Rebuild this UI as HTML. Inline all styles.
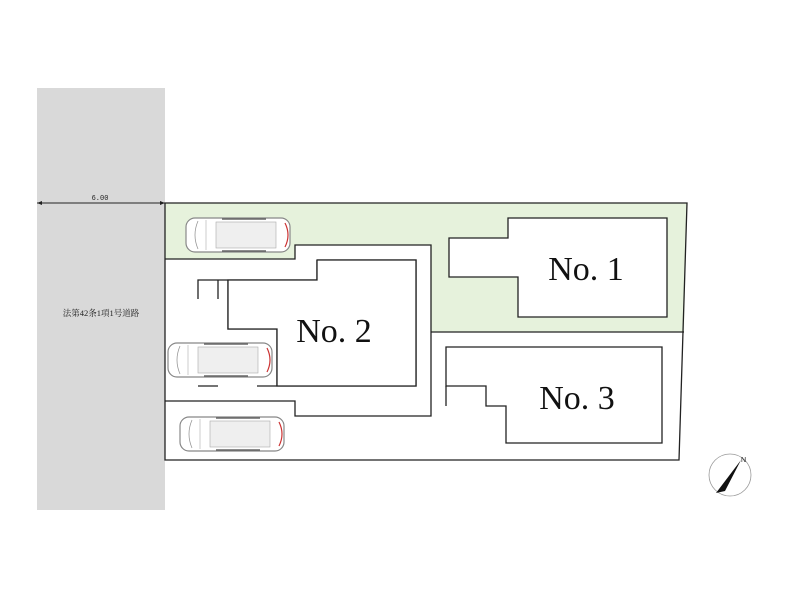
<!DOCTYPE html>
<html><head><meta charset="utf-8"><style>
body{margin:0;background:#fff;width:800px;height:599px;overflow:hidden}
</style></head><body>
<svg width="800" height="599" xmlns="http://www.w3.org/2000/svg">
<defs>
<g id="car">
<rect x="0" y="0" width="104" height="34" rx="9" fill="#fff" stroke="#888" stroke-width="1.2"/>
<rect x="30" y="4" width="60" height="26" fill="#efefef" stroke="#aaa" stroke-width="0.6"/>
<path d="M12 3 Q6 17 12 31" fill="none" stroke="#999" stroke-width="0.8"/>
<path d="M20 2 L20 32" stroke="#aaa" stroke-width="0.6" fill="none"/>
<path d="M99 5 Q105 17 99 29" fill="none" stroke="#c33" stroke-width="1.2"/>
<path d="M36 1 L80 1 M36 33 L80 33" stroke="#666" stroke-width="1.4"/>
</g>
</defs>
<rect x="37" y="88" width="128" height="422" fill="#d9d9d9"/>
<text x="101" y="316" font-family="Liberation Serif, Noto Serif CJK SC, serif" font-size="8.5" text-anchor="middle" fill="#222">法第42条1項1号道路</text>
<line x1="37" y1="203" x2="165" y2="203" stroke="#222" stroke-width="1"/>
<path d="M37 203 l5 -2 v4z M165 203 l-5 -2 v4z" fill="#222"/>
<text x="100" y="200" font-family="Liberation Mono, monospace" font-size="7" text-anchor="middle" fill="#222">6.00</text>
<path d="M165 203 L687 203 L684 332 L431 332 L431 245 L295 245 L295 259 L165 259 Z" fill="#e6f2dc"/>
<g fill="none" stroke="#222" stroke-width="1.3">
<path d="M165 203 L687 203 L679 460 L165 460 Z"/>
<path d="M431 332 L684 332"/>
<path d="M165 259 L295 259 L295 245 L431 245 L431 416 L295 416 L295 401 L165 401"/>
<path d="M508 218 L667 218 L667 317 L518 317 L518 277 L449 277 L449 238 L508 238 Z" fill="#fff"/>
<path d="M446 347 L662 347 L662 443 L506 443 L506 406 L486 406 L486 386 L446 386 Z" fill="#fff"/>
<path d="M446 386 L446 406"/>
<path d="M317 260 L416 260 L416 386 L277 386 L277 329 L228 329 L228 280 L198 280 L198 299 M218 280 L218 299 M317 260 L317 280 L228 280 M198 386 L218 386 M257 386 L277 386"/>
</g>
<path d="M317 260 L416 260 L416 386 L277 386 L277 329 L228 329 L228 280 L317 280 Z" fill="#fff"/>
<g fill="none" stroke="#222" stroke-width="1.3"><path d="M317 260 L416 260 L416 386 L277 386 L277 329 L228 329 L228 280 L317 280 Z"/></g>
<use href="#car" x="186" y="218"/>
<use href="#car" x="168" y="343"/>
<use href="#car" x="180" y="417"/>
<g font-family="Liberation Serif, serif" font-size="34" text-anchor="middle" fill="#111">
<text x="334" y="342">No. 2</text>
<text x="586" y="280">No. 1</text>
<text x="577" y="409">No. 3</text>
</g>
<circle cx="730" cy="475" r="21" fill="#fff" stroke="#999" stroke-width="0.8"/>
<path d="M716 493 L741 460 L725 491 Z" fill="#111"/>
<text x="741" y="462" font-family="Liberation Sans, sans-serif" font-size="7" fill="#111">N</text>
</svg>
</body></html>
